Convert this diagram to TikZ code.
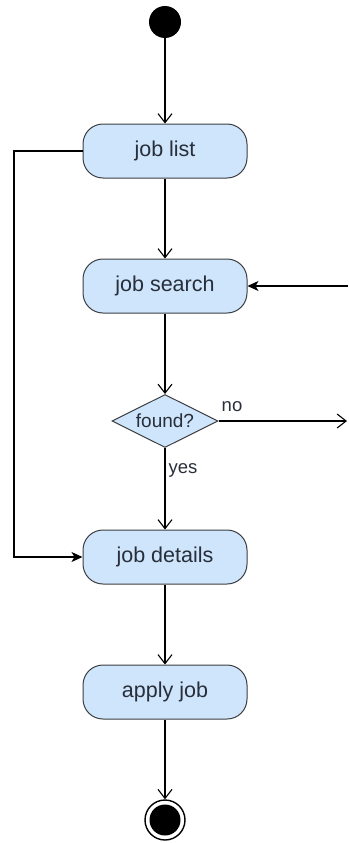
\documentclass[tikz,border=0pt]{standalone}
\usepackage{fontspec}
\setmainfont{Liberation Sans}
\usetikzlibrary{arrows.meta,shapes.geometric}
\definecolor{actfill}{RGB}{206,229,252}
\definecolor{actline}{RGB}{60,62,66}
\definecolor{acttext}{RGB}{40,46,58}
\begin{document}
\begin{tikzpicture}[x=1pt,y=1pt,
  action/.style={draw=actline,fill=actfill,text=acttext,rounded corners=20pt,
    minimum width=164pt,minimum height=54pt,line width=1pt,
    font=\fontsize{21.5}{25}\selectfont},
  choice/.style={diamond,aspect=2,draw=actline,fill=actfill,text=acttext,
    minimum width=106pt,minimum height=53pt,inner sep=0pt,line width=1pt,
    font=\fontsize{19}{22}\selectfont},
  flow/.style={line width=1.1pt,-{Straight Barb[length=9pt,width=14pt]}},
  back/.style={line width=1.1pt,-{Stealth[length=11pt,width=10pt,inset=3pt]}},
  lbl/.style={font=\fontsize{18.5}{22}\selectfont,text=acttext,inner sep=0pt}]
  \useasboundingbox (0,0) rectangle (348,-843);

  % Start and end points
  \node[circle,fill=black,minimum size=32pt,inner sep=0pt] (start) at (165,-22) {};
  \node[circle,draw=black,line width=1.4pt,minimum size=40pt,inner sep=0pt] (stop) at (165,-820) {};
  \fill (stop) circle (15.5);

  % Activities
  \node[action] (joblist) at (165,-151) {job list};
  \node[action] (jobsearch) at (165,-286) {job search};
  \node[choice] (found) at (165,-421) {found?};
  \node[action] (jobdetails) at (165,-557) {job details};
  \node[action] (applyjob) at (165,-692) {apply job};

  % Main flow
  \draw[flow] (start) -- (joblist);
  \draw[flow] (joblist) -- (jobsearch);
  \draw[flow] (jobsearch) -- (found);
  \draw[flow] (found) -- (jobdetails);
  \draw[flow] (jobdetails) -- (applyjob);
  \draw[flow] (applyjob) -- (stop);

  % Branch labels
  \node[lbl] at (232,-407) {no};
  \node[lbl] at (183,-470) {yes};

  % Skip search: list straight to details
  \coordinate (lcorner) at (14,-151);
  \draw[back] (joblist.west) -- (lcorner) |- (jobdetails.west);

  % Not found: back to search (runs off the right edge)
  \coordinate (redge) at (347,-421);
  \coordinate (rtop) at (348,-286);
  \draw[flow] (found.east) -- (redge);
  \draw[back] (rtop) -- (jobsearch.east);
\end{tikzpicture}
\end{document}
